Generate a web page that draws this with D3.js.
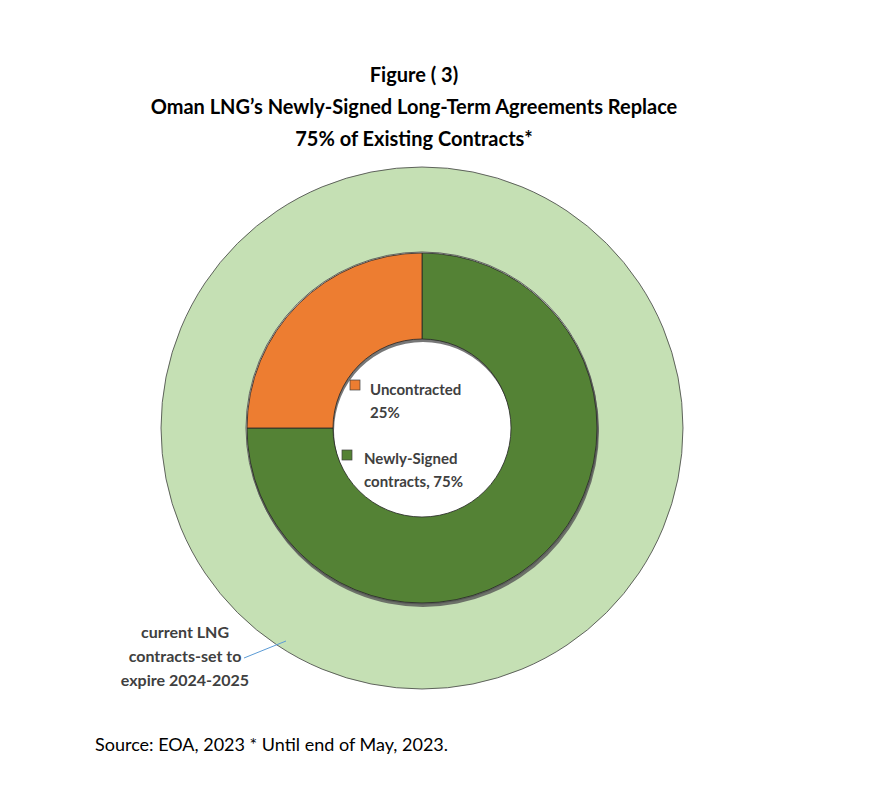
<!DOCTYPE html>
<html><head><meta charset="utf-8">
<script src="https://cdn.jsdelivr.net/npm/d3@7"></script>
<style>body{margin:0;background:#fff}</style></head>
<body><svg id="c" width="875" height="803"></svg>
<script>
const titleLines=["Figure ( 3)","Oman LNG\u2019s Newly-Signed Long-Term Agreements Replace","75% of Existing Contracts*"];
const outerLabels=["current LNG contracts-set to expire 2024-2025"];
const outerValues=[100];
const innerLabels=["Newly-Signed contracts, 75%","Uncontracted 25%"];
const innerValues=[75,25];
const innerColors=["#548235","#ed7d31"];
const source="Source: EOA, 2023 * Until end of May, 2023.";

const svg=d3.select("#c");
const font="Lato, 'Liberation Sans', sans-serif";
const cx=422,cy=428;
const t=svg.append("g").attr("font-family",font).attr("font-weight","bold").attr("font-size",20).attr("fill","#000").attr("text-anchor","middle");
titleLines.forEach((s,i)=>t.append("text").attr("x",414).attr("y",82+i*32).text(s));

const g=svg.append("g").attr("transform",`translate(${cx},${cy})`);
const pie=d3.pie().sort(null);
g.selectAll(".o").data(pie(outerValues)).join("path")
 .attr("d",d3.arc().innerRadius(176).outerRadius(261)).attr("fill","#c5e0b4").attr("stroke","#404040").attr("stroke-width",0.8);
// slight shadow
g.append("path").attr("d",d3.arc().innerRadius(89).outerRadius(176)({startAngle:0,endAngle:2*Math.PI}))
 .attr("transform","translate(1,3)").attr("fill","#555").attr("opacity",0.8);
g.selectAll(".i").data(pie(innerValues)).join("path")
 .attr("d",d3.arc().innerRadius(89).outerRadius(175)).attr("fill",(d,i)=>innerColors[i]).attr("stroke","#262626").attr("stroke-width",0.8);

const lg=svg.append("g").attr("font-family",font).attr("font-weight","bold").attr("font-size",15).attr("fill","#404040");
lg.append("rect").attr("x",350).attr("y",380).attr("width",10).attr("height",10).attr("fill",innerColors[1]).attr("stroke","#404040").attr("stroke-width",0.7);
lg.append("text").attr("x",370).attr("y",395).text("Uncontracted");
lg.append("text").attr("x",370).attr("y",418).text("25%");
lg.append("rect").attr("x",342).attr("y",450).attr("width",10).attr("height",10).attr("fill",innerColors[0]).attr("stroke","#404040").attr("stroke-width",0.7);
lg.append("text").attr("x",364).attr("y",464).text("Newly-Signed");
lg.append("text").attr("x",364).attr("y",487).text("contracts, 75%");

const ol=svg.append("g").attr("font-family",font).attr("font-weight","bold").attr("font-size",16).attr("fill","#404040").attr("text-anchor","middle");
["current LNG","contracts-set to","expire 2024-2025"].forEach((s,i)=>ol.append("text").attr("x",185).attr("y",638+i*24).text(s));
svg.append("line").attr("x1",244).attr("y1",658).attr("x2",286).attr("y2",641).attr("stroke","#5b9bd5").attr("stroke-width",1);

svg.append("text").attr("x",95).attr("y",751).attr("font-family",font).attr("font-size",18).attr("fill","#000").text(source);
</script></body></html>
